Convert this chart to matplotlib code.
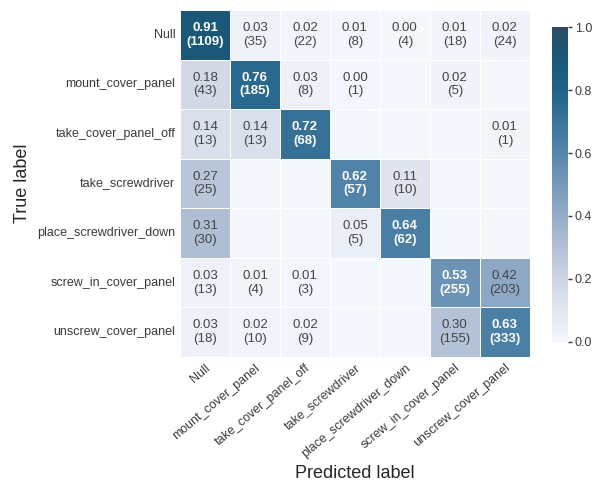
import numpy as np
import matplotlib
matplotlib.use("Agg")
import matplotlib.pyplot as plt
from matplotlib.colors import LinearSegmentedColormap
import seaborn as sns

labels = ["Null", "mount_cover_panel", "take_cover_panel_off", "take_screwdriver",
          "place_screwdriver_down", "screw_in_cover_panel", "unscrew_cover_panel"]

# counts per true label (rows) / predicted label (cols)
counts = np.array([
    [1109, 35, 22, 8, 4, 18, 24],
    [43, 185, 8, 1, 0, 5, 0],
    [13, 13, 68, 0, 0, 0, 1],
    [25, 0, 0, 57, 10, 0, 0],
    [30, 0, 0, 5, 62, 0, 0],
    [13, 4, 3, 0, 0, 255, 203],
    [18, 10, 9, 0, 0, 155, 333],
])

norm = counts / counts.sum(axis=1, keepdims=True)

annot = np.empty(counts.shape, dtype=object)
for i in range(counts.shape[0]):
    for j in range(counts.shape[1]):
        annot[i, j] = "%.2f\n(%d)" % (norm[i, j], counts[i, j]) if counts[i, j] > 0 else ""

cmap = LinearSegmentedColormap.from_list("cm", [
    (0.0, "#f4f7fc"), (0.2, "#cdd4e3"), (0.4, "#95adc8"), (0.6, "#5586ac"),
    (0.8, "#1e6389"), (0.9, "#18597b"), (1.0, "#2d4a63")])

sns.set_style("white")
plt.rcParams["font.family"] = ["Liberation Sans", "DejaVu Sans"]
plt.rcParams["text.color"] = "#3a3a3a"
plt.rcParams["xtick.color"] = "#3a3a3a"
plt.rcParams["ytick.color"] = "#3a3a3a"

fig = plt.figure(figsize=(6, 4.83), dpi=100)
ax = fig.add_axes([0.3, 0.261, 0.583, 0.718])
cax = fig.add_axes([0.92, 0.292, 0.0267, 0.652])

sns.heatmap(norm, annot=annot, fmt="", cmap=cmap, vmin=0, vmax=1, ax=ax, cbar_ax=cax,
            linewidths=0.5, linecolor="white", square=False,
            annot_kws={"fontsize": 9.5, "color": "#444444"},
            xticklabels=labels, yticklabels=labels)

# white bold text on the dark cells
for t, v in zip(ax.texts, norm.ravel()):
    if v > 0.5:
        t.set_color("white")
        t.set_fontweight("bold")
    else:
        t.set_color("#444444")
        t.set_fontweight("normal")

ax.tick_params(axis="both", length=0, labelsize=9)
ax.set_yticklabels(labels, rotation=0)
ax.set_xticklabels(labels, rotation=40, ha="right", rotation_mode="anchor")
ax.set_xlabel("Predicted label", fontsize=13)
ax.set_ylabel("True label", fontsize=13)

cax.tick_params(labelsize=9, length=3, width=1, color="#3a3a3a", pad=2)
cax.set_yticks([0.0, 0.2, 0.4, 0.6, 0.8, 1.0])

fig.savefig("out.png", dpi=100)
